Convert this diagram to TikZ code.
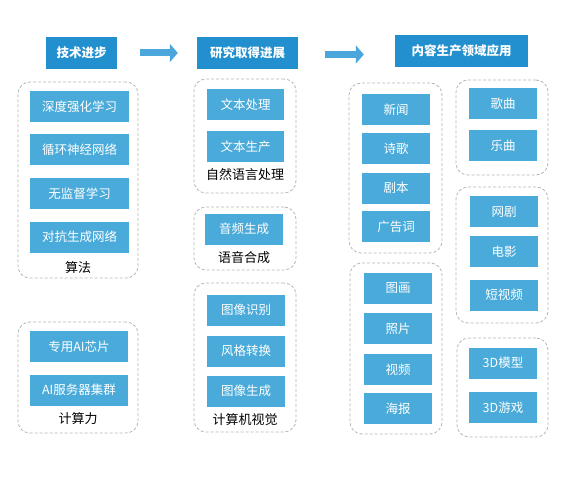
\documentclass[tikz,border=0pt]{standalone}
\usepackage{fontspec}
\setmainfont{Noto Sans CJK SC}
\usetikzlibrary{arrows.meta}
\definecolor{hdr}{HTML}{2290CE}
\definecolor{bx}{HTML}{4AABDA}
\definecolor{arr}{HTML}{4BA6DB}
\definecolor{grpc}{HTML}{B4B4B8}
\tikzset{
  hbox/.style={fill=hdr, text=white, font=\fontsize{12.5}{14}\selectfont\bfseries, minimum height=32pt, inner sep=0pt},
  cbox/.style={fill=bx, text=white, font=\fontsize{12.5}{14}\selectfont, minimum height=31pt, inner sep=0pt},
  grp/.style={draw=grpc, dashed, dash pattern=on 3pt off 2pt, line width=0.8pt, rounded corners=12pt, inner sep=0pt},
  lbl/.style={text=black, font=\fontsize{13}{15}\selectfont, inner sep=0pt},
  bigarrow/.style={draw=arr, line width=7pt, -{Triangle[length=8pt,width=18pt]}}
}
\begin{document}
\begin{tikzpicture}[x=1pt,y=-1pt]
\useasboundingbox (0,0) rectangle (585,481);
% headers
\node[hbox, minimum width=71pt] (h1) at (81.5,53) {技术进步};
\node[hbox, minimum width=101pt] (h2) at (247.5,53) {研究取得进展};
\node[hbox, minimum width=133pt] (h3) at (461.5,51) {内容生产领域应用};
\draw[bigarrow, shorten <=23pt, shorten >=19pt] (h1.east) -- (h2.west);
\coordinate (a2s) at ([yshift=-1.5pt]h2.east);
\draw[bigarrow, shorten <=27pt, shorten >=31pt] (a2s) -- (a2s -| h3.west);
% groups col 1
\node[grp, minimum width=120pt, minimum height=196pt] (g1) at (78,180) {};
\node[grp, minimum width=120pt, minimum height=111pt] (g2) at (78,377.5) {};
% groups col 2
\node[grp, minimum width=102pt, minimum height=114pt] (g3) at (245,136) {};
\node[grp, minimum width=102pt, minimum height=63pt] (g4) at (245,238.5) {};
\node[grp, minimum width=102pt, minimum height=149pt] (g5) at (245,357.5) {};
% groups col 3
\node[grp, minimum width=93pt, minimum height=170pt] (g6) at (395.5,168) {};
\node[grp, minimum width=92pt, minimum height=171pt] (g7) at (396,348.5) {};
% groups col 4
\node[grp, minimum width=92pt, minimum height=95pt] (g8) at (502,127.5) {};
\node[grp, minimum width=92pt, minimum height=136pt] (g9) at (502,255) {};
\node[grp, minimum width=91pt, minimum height=99pt] (g10) at (502.5,387.5) {};
% col 1 boxes
\node[cbox, minimum width=99pt] (a1) at (79.5,107) {深度强化学习};
\node[cbox, minimum width=99pt] (a2) at (79.5,149.5) {循环神经网络};
\node[cbox, minimum width=99pt] (a3) at (79.5,193.5) {无监督学习};
\node[cbox, minimum width=99pt] (a4) at (79.5,237) {对抗生成网络};
\node[lbl] (l1) at (78,268) {算法};
\node[cbox, minimum width=98pt] (b1) at (79,346.5) {专用AI芯片};
\node[cbox, minimum width=98pt] (b2) at (79,390) {AI服务器集群};
\node[lbl] (l2) at (78,419) {计算力};
% col 2 boxes
\node[cbox, minimum width=77pt] (c1) at (245.5,104.5) {文本处理};
\node[cbox, minimum width=77pt] (c2) at (245.5,146.5) {文本生产};
\node[lbl] (l3) at (245,175) {自然语言处理};
\node[cbox, minimum width=78pt] (d1) at (244,229) {音频生成};
\node[lbl] (l4) at (244,258) {语音合成};
\node[cbox, minimum width=78pt] (e1) at (246,310) {图像识别};
\node[cbox, minimum width=78pt] (e2) at (246,351) {风格转换};
\node[cbox, minimum width=78pt] (e3) at (246,391) {图像生成};
\node[lbl] (l5) at (245,420) {计算机视觉};
% col 3 boxes
\node[cbox, minimum width=68pt] (f1) at (396,110) {新闻};
\node[cbox, minimum width=68pt] (f2) at (396,148.5) {诗歌};
\node[cbox, minimum width=68pt] (f3) at (396,188) {剧本};
\node[cbox, minimum width=68pt] (f4) at (396,226.5) {广告词};
\node[cbox, minimum width=68pt] (p1) at (398,288.5) {图画};
\node[cbox, minimum width=68pt] (p2) at (398,328.5) {照片};
\node[cbox, minimum width=68pt] (p3) at (398,369.5) {视频};
\node[cbox, minimum width=68pt] (p4) at (398,408.5) {海报};
% col 4 boxes
\node[cbox, minimum width=68pt] (s1) at (503,104) {歌曲};
\node[cbox, minimum width=68pt] (s2) at (503,145.5) {乐曲};
\node[cbox, minimum width=68pt] (v1) at (504,211.5) {网剧};
\node[cbox, minimum width=68pt] (v2) at (504,251.5) {电影};
\node[cbox, minimum width=68pt] (v3) at (504,295) {短视频};
\node[cbox, minimum width=68pt] (m1) at (503,363) {3D模型};
\node[cbox, minimum width=68pt] (m2) at (503,407.5) {3D游戏};
\end{tikzpicture}
\end{document}
